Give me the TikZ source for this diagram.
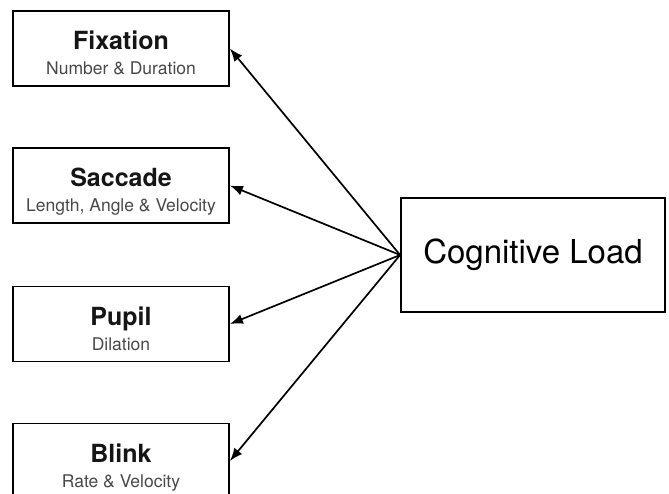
\documentclass[tikz,border=0pt]{standalone}
\usepackage{fontspec}
\setmainfont{TeX Gyre Heros}
\usetikzlibrary{arrows.meta}
\definecolor{subgray}{HTML}{484848}
\definecolor{titleblack}{HTML}{151515}
\newcommand\eyebox[2]{\rule{0pt}{31pt}{\fontsize{25}{25}\selectfont\bfseries\color{titleblack}#1}\\
	{\color{subgray}#2}\rule[-4pt]{0pt}{4pt}}
\begin{document}
\begin{tikzpicture}[x = 1pt,y = -1pt,
	measure/.style = {draw,line width = 1.8pt,minimum width = 216pt,minimum height = 75pt,inner sep = 0pt,align = center,font = \fontsize{17.5}{25}\selectfont},
	load/.style = {draw,line width = 1.8pt,minimum width = 264pt,minimum height = 114pt,inner sep = 0pt,font = \fontsize{33}{36}\selectfont},
	link/.style = {line width = 1.7pt,-{Latex[length = 13pt,width = 10pt]}}]
	\clip (0,0) rectangle (669,493);
	\node[measure] (fix) at (121,48.5) {\eyebox{Fixation}{Number \& Duration}};
	\node[measure] (sac) at (121,185.5) {\eyebox{Saccade}{Length, Angle \& Velocity}};
	\node[measure] (pup) at (121,324) {\eyebox{Pupil}{Dilation}};
	\node[measure] (bli) at (121,461) {\eyebox{Blink}{Rate \& Velocity}};
	\node[load] (cl) at (533,255) {Cognitive Load};
	\foreach \n in {fix,sac,pup,bli}
		\draw[link] (cl.west) -- (\n.east);
	\end{tikzpicture}
\end{document}
